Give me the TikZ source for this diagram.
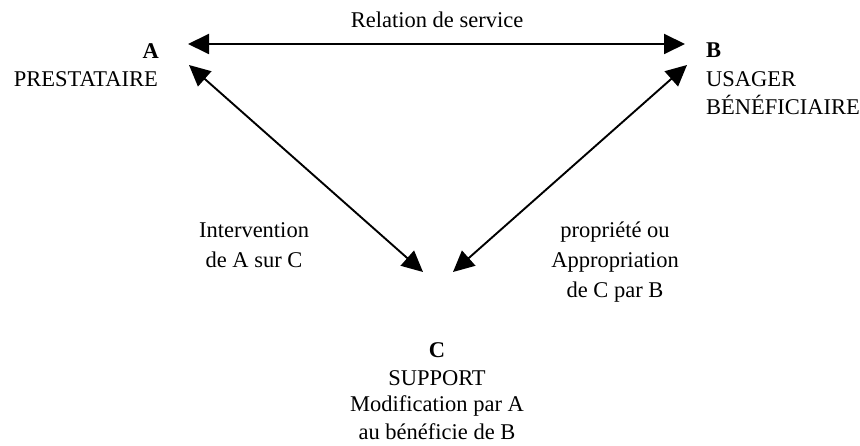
\documentclass[tikz,border=0pt]{standalone}
\usepackage{fontspec}
\setmainfont{Liberation Serif}
\usetikzlibrary{arrows.meta}
\begin{document}
\begin{tikzpicture}[x=1pt,y=-1pt,
  lbl/.style={inner sep=0pt,font=\fontsize{22.5}{27}\selectfont},
  conn/.style={line width=1.9pt,{Triangle[length=21pt,width=20pt]}-{Triangle[length=21pt,width=20pt]}}]
\useasboundingbox (0,0) rectangle (860,446);
% labels
\node[lbl,anchor=base] (rel) at (437,28) {Relation de service};
\node[lbl,anchor=base east] (A1) at (159,59) {\textbf{A}};
\node[lbl,anchor=base east] (A2) at (158,87) {PRESTATAIRE};
\node[lbl,anchor=base west] (B1) at (706,58) {\textbf{B}};
\node[lbl,anchor=base west] (B2) at (706,87) {USAGER};
\node[lbl,anchor=base west] (B3) at (706,115) {BÉNÉFICIAIRE};
\node[lbl,anchor=base] (i1) at (254,238) {Intervention};
\node[lbl,anchor=base] (i2) at (254,268) {de A sur C};
\node[lbl,anchor=base] (p1) at (615,238) {propriété ou};
\node[lbl,anchor=base] (p2) at (615,268) {Appropriation};
\node[lbl,anchor=base] (p3) at (615,298) {de C par B};
\node[lbl,anchor=base] (C1) at (437,358) {\textbf{C}};
\node[lbl,anchor=base] (C2) at (437,385) {SUPPORT};
\node[lbl,anchor=base] (C3) at (437,412) {Modification par A};
\node[lbl,anchor=base] (C4) at (437,439) {au bénéficie de B};
% connector ends
\coordinate (aTop) at (188,44);
\coordinate (bTop) at (685,44);
\coordinate (aDiag) at (189,65);
\coordinate (bDiag) at (687,65);
\coordinate (cLeft) at (423,272);
\coordinate (cRight) at (453,272);
\draw[conn] (aTop) -- (bTop);
\draw[conn] (aDiag) -- (cLeft);
\draw[conn] (bDiag) -- (cRight);
\end{tikzpicture}
\end{document}
